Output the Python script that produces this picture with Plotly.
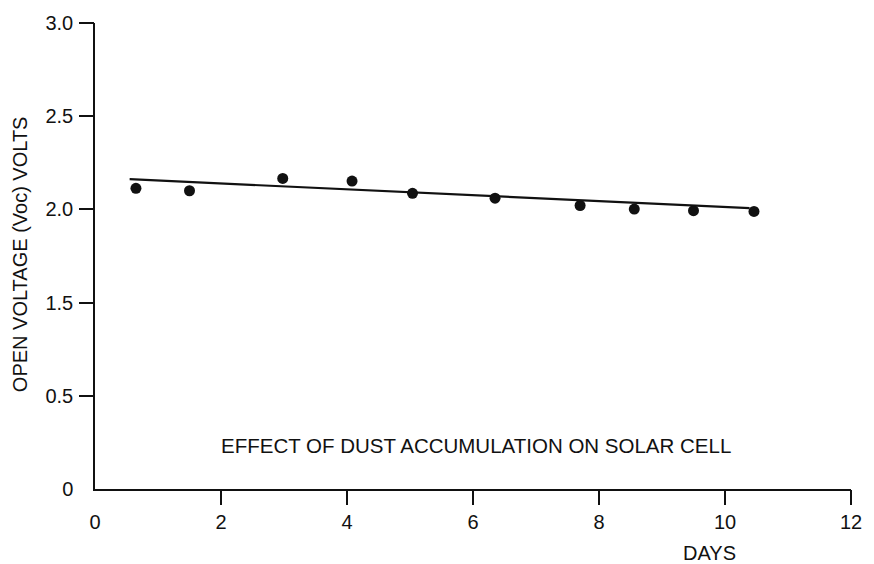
import plotly.graph_objects as go

# ---- data ----
days = [0.65, 1.5, 2.98, 4.08, 5.04, 6.35, 7.70, 8.56, 9.50, 10.46]
voc = [2.113, 2.100, 2.166, 2.152, 2.086, 2.060, 2.021, 2.002, 1.993, 1.989]

trend_x = [0.55, 10.39]
trend_y = [2.162, 2.007]

x_tickvals = [0, 2, 4, 6, 8, 10, 12]
x_ticktext = ["0", "2", "4", "6", "8", "10", "12"]
# the reference's y axis has evenly spaced ticks labelled 0, 0.5, 1.5, 2.0, 2.5, 3.0
y_tickvals = [0.5, 1.0, 1.5, 2.0, 2.5, 3.0]
y_ticktext = ["0", "0.5", "1.5", "2.0", "2.5", "3.0"]

x_range = [0, 12]
y_range = [0.5, 3.0]

FONT = "Liberation Sans, Arial, Helvetica, sans-serif"
INK = "#111111"

fig = go.Figure()
fig.add_trace(go.Scatter(
    x=trend_x, y=trend_y, mode="lines",
    line=dict(color=INK, width=2.2),
    xaxis="x2", yaxis="y2", showlegend=False, hoverinfo="skip"))
fig.add_trace(go.Scatter(
    x=days, y=voc, mode="markers",
    marker=dict(color=INK, size=11),
    showlegend=False))

fig.update_layout(
    width=874, height=564,
    margin=dict(l=95, r=13, t=16, b=75),
    paper_bgcolor="white", plot_bgcolor="white",
    font=dict(family=FONT, size=20, color=INK),
    xaxis=dict(range=x_range, tickvals=x_tickvals, ticktext=x_ticktext,
               ticks="", showline=True, linecolor=INK, linewidth=1.5,
               showgrid=False, zeroline=False, ticklabelstandoff=14,
               tickfont=dict(family=FONT, size=20, color=INK)),
    yaxis=dict(range=y_range, tickvals=y_tickvals, ticktext=y_ticktext,
               ticks="", showline=True, linecolor=INK, linewidth=1.5,
               showgrid=False, zeroline=False, ticklabelstandoff=16,
               tickfont=dict(family=FONT, size=20, color=INK)),
    xaxis2=dict(range=x_range, overlaying="x", anchor="y2", side="bottom",
                tickvals=x_tickvals[1:], ticks="outside", ticklen=15,
                tickwidth=1.5, tickcolor=INK, showticklabels=False,
                showline=False, showgrid=False, zeroline=False),
    yaxis2=dict(range=y_range, overlaying="y", anchor="x2", side="left",
                tickvals=y_tickvals[1:], ticks="outside", ticklen=15,
                tickwidth=1.5, tickcolor=INK, showticklabels=False,
                showline=False, showgrid=False, zeroline=False),
    annotations=[
        dict(text="OPEN VOLTAGE (Voc) VOLTS", textangle=-90,
             xref="paper", yref="paper", x=(18.5 - 95) / 766, y=0.505,
             xanchor="center", yanchor="middle", showarrow=False,
             font=dict(family=FONT, size=20, color=INK)),
        dict(text="DAYS", xref="paper", yref="paper",
             x=(717.5 - 95) / 766, y=(489 - 553.5) / 473,
             xanchor="center", yanchor="middle", showarrow=False,
             font=dict(family=FONT, size=20, color=INK)),
        dict(text="EFFECT OF DUST ACCUMULATION ON SOLAR CELL",
             xref="paper", yref="paper",
             x=(481 - 95) / 766, y=(489 - 445) / 473,
             xanchor="center", yanchor="middle", showarrow=False,
             font=dict(family=FONT, size=20.5, color=INK)),
    ],
)

fig.write_html("out.html")
